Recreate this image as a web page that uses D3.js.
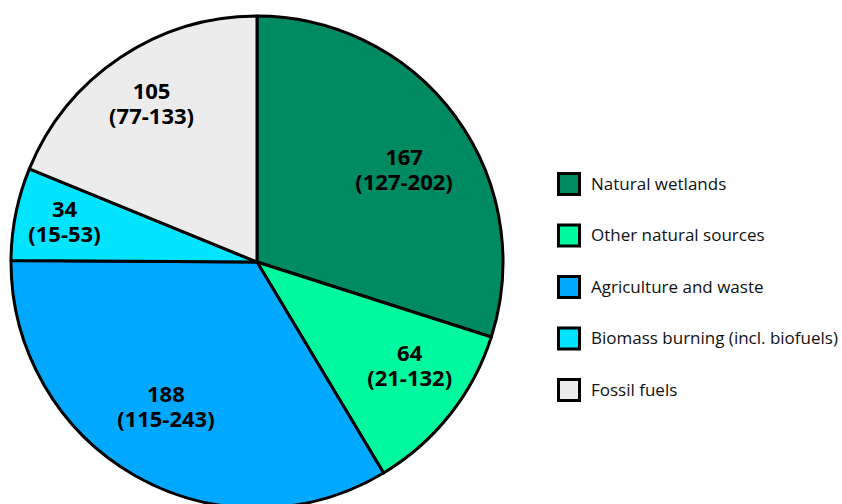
<!DOCTYPE html>
<html>
<head>
<meta charset="utf-8">
<script src="https://cdn.jsdelivr.net/npm/d3@7"></script>
<style>
  html, body { margin: 0; padding: 0; background: #fff; }
  svg { display: block; }
</style>
</head>
<body>
<svg id="chart" width="842" height="504"></svg>
<script>
// Global methane sources (Tg CH4 / yr), best estimate and range
const categories = ["Natural wetlands", "Other natural sources", "Agriculture and waste", "Biomass burning (incl. biofuels)", "Fossil fuels"];
const values = [167, 64, 188, 34, 105];
const ranges = ["127-202", "21-132", "115-243", "15-53", "77-133"];
const colors = ["#008a62", "#00f99e", "#00a8ff", "#00e4ff", "#ececec"];

// Hand-tuned label offsets from each slice's label centroid (px)
const labelNudge = [[0, 10], [10, -14], [-1, -18], [-14, -9], [-4, -12]];

const svg = d3.select("#chart");
const cx = 257, cy = 262, radius = 246;

const data = categories.map((c, i) => ({ name: c, value: values[i], range: ranges[i], color: colors[i], nudge: labelNudge[i] }));

const pie = d3.pie().sort(null).value(d => d.value);
const arcs = pie(data);
const arc = d3.arc().innerRadius(0).outerRadius(radius);
const labelArc = d3.arc().innerRadius(radius * 0.74).outerRadius(radius * 0.74);

const g = svg.append("g").attr("transform", `translate(${cx},${cy})`);

g.selectAll("path.slice")
  .data(arcs)
  .join("path")
  .attr("class", "slice")
  .attr("d", arc)
  .attr("fill", d => d.data.color)
  .attr("stroke", "#000")
  .attr("stroke-width", 3)
  .attr("stroke-linejoin", "round");

const labels = g.selectAll("text.val")
  .data(arcs)
  .join("text")
  .attr("class", "val")
  .attr("transform", d => {
    const [x, y] = labelArc.centroid(d);
    return `translate(${x + d.data.nudge[0]},${y + d.data.nudge[1]})`;
  })
  .attr("text-anchor", "middle")
  .attr("font-family", "'Open Sans', sans-serif")
  .attr("font-weight", "bold")
  .attr("font-size", 22)
  .attr("fill", "#000");

labels.append("tspan").attr("x", 0).attr("y", 0).text(d => d.data.value);
labels.append("tspan").attr("x", 0).attr("y", 25).text(d => `(${d.data.range})`);

// Legend
const legend = svg.append("g").attr("transform", "translate(557,172)");
const rowH = 51.5;
const item = legend.selectAll("g.item")
  .data(data)
  .join("g")
  .attr("class", "item")
  .attr("transform", (d, i) => `translate(0,${i * rowH})`);

item.append("rect")
  .attr("x", 1.5).attr("y", 1.5)
  .attr("width", 21).attr("height", 21)
  .attr("fill", d => d.color)
  .attr("stroke", "#000")
  .attr("stroke-width", 3);

item.append("text")
  .attr("x", 34).attr("y", 12)
  .attr("dy", "0.35em")
  .attr("font-family", "'Open Sans', sans-serif")
  .attr("font-size", 17)
  .attr("fill", "#111")
  .text(d => d.name);
</script>
</body>
</html>
